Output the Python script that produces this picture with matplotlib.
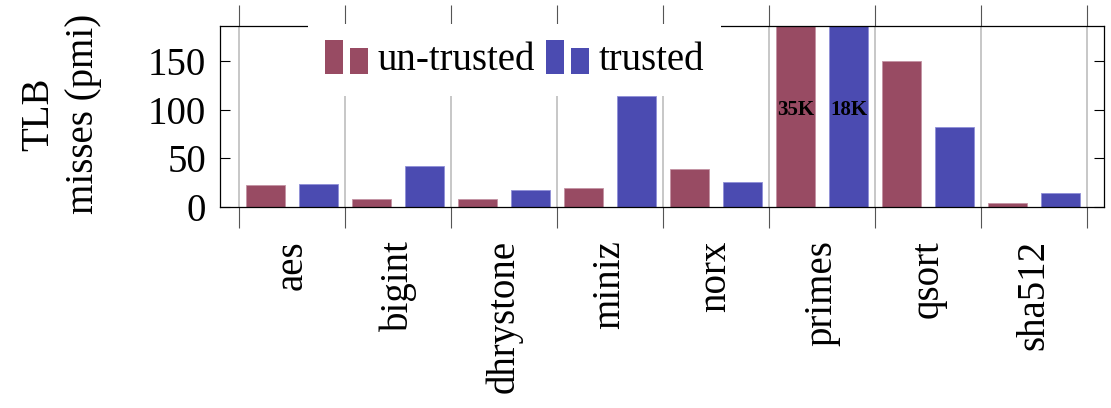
import numpy as np
import matplotlib as mpl
import matplotlib.pyplot as plt
from matplotlib.patches import Rectangle
from matplotlib.legend_handler import HandlerBase

mpl.rcParams.update({
    "font.family": ["Liberation Serif", "DejaVu Serif"],
    "font.size": 28,
    "axes.linewidth": 0.9,
})

benchmarks = ["aes", "bigint", "dhrystone", "miniz", "norx", "primes", "qsort", "sha512"]
untrusted = [23, 8, 8, 20, 39, 35000, 150, 4]
trusted = [24, 42, 17, 114, 26, 18000, 82, 14]

RED = "#984b63"
BLUE = "#4b4bb1"
YMAX = 186


class PairedBars(HandlerBase):
    """ybar-style legend image: two bars of different height."""
    def create_artists(self, legend, orig_handle, xdescent, ydescent,
                       width, height, fontsize, trans):
        fc = orig_handle.get_facecolor()
        w = width * 0.42
        x0, y0 = -xdescent, -ydescent
        tall = Rectangle((x0, y0), w, height, facecolor=fc,
                         edgecolor="none", transform=trans)
        short = Rectangle((x0 + width - w, y0), w, height * 0.76,
                          facecolor=fc, edgecolor="none", transform=trans)
        return [tall, short]


fig = plt.figure(figsize=(11.11, 4.08), dpi=100)
ax = fig.add_axes([220 / 1111, 1 - 207 / 408, 884 / 1111, 181 / 408])

x = np.arange(len(benchmarks))
off, bw = 0.25, 0.37
b1 = ax.bar(x - off, untrusted, bw, color=RED, edgecolor="#c393a3",
            linewidth=0.6, zorder=2)
b2 = ax.bar(x + off, trusted, bw, color=BLUE, edgecolor="#8f8fd8",
            linewidth=0.6, zorder=2)

# off-scale bars get their real value written inside
for bars, vals in ((b1, untrusted), (b2, trusted)):
    for rect, v in zip(bars, vals):
        if v > YMAX:
            ax.text(rect.get_x() + rect.get_width() / 2, 100,
                    f"{v / 1000:.0f}K", ha="center", va="center",
                    fontsize=15, fontweight="bold", zorder=3)

ax.set_xlim(-0.68, 7.66)
ax.set_ylim(0, YMAX)
ax.set_yticks([0, 50, 100, 150])
ax.tick_params(axis="y", direction="in", length=7, width=0.8,
               right=True, pad=10)

ax.set_xticks(x)
ax.set_xticklabels(benchmarks, rotation=90, va="top")
ax.tick_params(axis="x", which="major", length=0, pad=24)
bounds = np.arange(len(benchmarks) + 1) - 0.5
ax.set_xticks(bounds, minor=True)
ax.tick_params(axis="x", which="minor", direction="out", length=15,
               width=0.8, color="#555555", top=True, bottom=True)
for b in bounds:
    ax.axvline(b, color="#bdbdbd", lw=1.2, zorder=1)

proxies = [Rectangle((0, 0), 1, 1, facecolor=RED),
           Rectangle((0, 0), 1, 1, facecolor=BLUE)]
leg = ax.legend(proxies, ["un-trusted", "trusted"],
                handler_map={Rectangle: PairedBars()},
                loc="upper left", bbox_to_anchor=(0.100, 1.012), ncol=2,
                fancybox=False, edgecolor="none", facecolor="white",
                framealpha=1, borderpad=0.42, borderaxespad=0,
                handlelength=1.1, handleheight=0.95, handletextpad=0.25,
                columnspacing=0.3, fontsize=28)

fig.text(0.055, 1 - 114 / 408, "TLB\nmisses (pmi)", rotation=90,
         ha="center", va="center", multialignment="center", linespacing=1.3)

fig.savefig("out.png", dpi=100)
